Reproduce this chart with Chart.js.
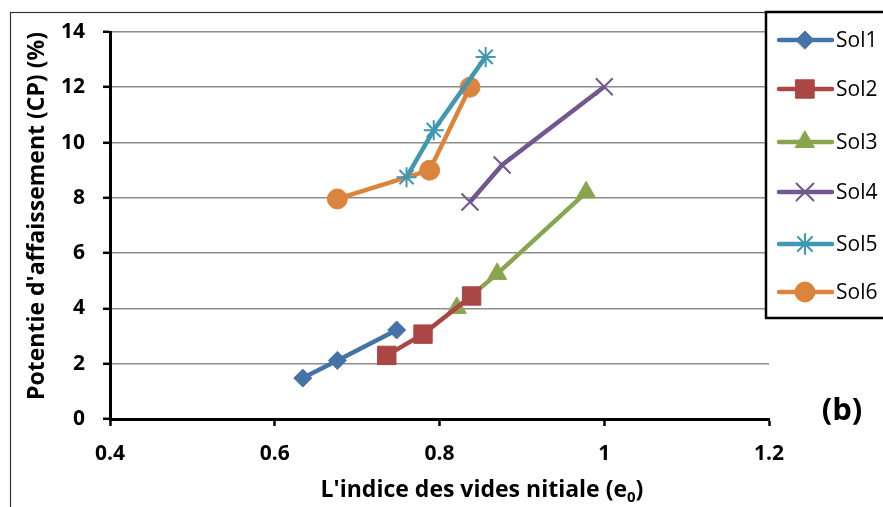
<!DOCTYPE html>
<html>
<head>
<meta charset="utf-8">
<script src="https://cdn.jsdelivr.net/npm/chart.js@4/dist/chart.umd.min.js"></script>
<style>
  html, body { margin:0; padding:0; background:#fff; }
  #wrap { width:883px; height:507px; position:relative; }
</style>
</head>
<body>
<div id="wrap"><canvas id="c" width="883" height="507"></canvas></div>
<script>
// Potentie d'affaissement vs indice des vides initial, sols 1 à 6
const names = ['Sol1','Sol2','Sol3','Sol4','Sol5','Sol6'];
const sol1X = [0.634, 0.676, 0.748], sol1Y = [1.48, 2.12, 3.22];
const sol2X = [0.736, 0.780, 0.839], sol2Y = [2.30, 3.07, 4.45];
const sol3X = [0.821, 0.870, 0.978], sol3Y = [4.02, 5.25, 8.20];
const sol4X = [0.837, 0.876, 1.000], sol4Y = [7.85, 9.19, 12.02];
const sol5X = [0.760, 0.793, 0.856], sol5Y = [8.75, 10.45, 13.10];
const sol6X = [0.676, 0.788, 0.837], sol6Y = [7.96, 9.00, 12.00];
const xTicks = [0.4, 0.6, 0.8, 1, 1.2];
const yTicks = [0, 2, 4, 6, 8, 10, 12, 14];

const colors = ['#4572A7','#AA4643','#89A54E','#71588F','#4198AF','#DB843D'];
const styles = ['rectRot','rect','triangle','crossRot','star','circle'];
const radii  = [9, 13, 11, 12, 10, 10];
const pbw    = [1, 1, 1, 2, 2, 1];

const xs = [sol1X, sol2X, sol3X, sol4X, sol5X, sol6X];
const ys = [sol1Y, sol2Y, sol3Y, sol4Y, sol5Y, sol6Y];

const datasets = names.map((n, i) => ({
  label: n,
  data: xs[i].map((x, j) => ({x, y: ys[i][j]})),
  showLine: true,
  borderColor: colors[i],
  backgroundColor: colors[i],
  borderWidth: 4.5,
  pointStyle: styles[i],
  pointRadius: radii[i],
  pointBorderWidth: pbw[i],
  pointBackgroundColor: colors[i],
  pointBorderColor: colors[i],
  tension: 0
}));

const FONT = '"Open Sans", "DejaVu Sans", sans-serif';

const decor = {
  id: 'decor',
  afterDraw(chart) {
    const ctx = chart.ctx;
    ctx.save();
    // cadre extérieur
    ctx.strokeStyle = '#333';
    ctx.lineWidth = 1.2;
    ctx.strokeRect(10.5, 12.5, 900, 520);

    // titre axe Y
    ctx.fillStyle = '#000';
    ctx.font = 'bold 23px ' + FONT;
    ctx.textAlign = 'center';
    ctx.textBaseline = 'middle';
    ctx.translate(37, 216);
    ctx.rotate(-Math.PI / 2);
    ctx.fillText("Potentie d'affaissement (CP) (%)", 0, 0);
    ctx.setTransform(1, 0, 0, 1, 0, 0);

    // titre axe X avec indice
    const main = "L'indice des vides nitiale (e";
    ctx.textAlign = 'left';
    ctx.textBaseline = 'alphabetic';
    ctx.font = 'bold 23px ' + FONT;
    const w1 = ctx.measureText(main).width;
    ctx.font = 'bold 15px ' + FONT;
    const w2 = ctx.measureText('0').width;
    ctx.font = 'bold 23px ' + FONT;
    const w3 = ctx.measureText(')').width;
    let x0 = 482 - (w1 + w2 + w3) / 2;
    const base = 497;
    ctx.fillText(main, x0, base);
    ctx.font = 'bold 15px ' + FONT;
    ctx.fillText('0', x0 + w1, base + 5);
    ctx.font = 'bold 23px ' + FONT;
    ctx.fillText(')', x0 + w1 + w2, base);

    // (b)
    ctx.font = 'bold 31px ' + FONT;
    ctx.textAlign = 'center';
    ctx.textBaseline = 'middle';
    ctx.fillText('(b)', 842, 411);

    // légende
    ctx.fillStyle = '#fff';
    ctx.fillRect(766, 12, 130, 306);
    ctx.strokeStyle = '#000';
    ctx.lineWidth = 2.5;
    ctx.strokeRect(766, 12, 130, 306);
    const rowsY = [40, 89, 142, 192, 244, 292];
    names.forEach((n, i) => {
      const y = rowsY[i];
      ctx.strokeStyle = colors[i];
      ctx.lineWidth = 4.5;
      ctx.lineCap = 'round';
      ctx.beginPath();
      ctx.moveTo(779, y);
      ctx.lineTo(832, y);
      ctx.stroke();
      ctx.fillStyle = colors[i];
      ctx.lineWidth = pbw[i];
      Chart.helpers.drawPoint(ctx, {pointStyle: styles[i], radius: radii[i], rotation: 0, borderWidth: pbw[i]}, 805, y);
      ctx.fillStyle = '#000';
      ctx.font = '21px ' + FONT;
      ctx.textAlign = 'left';
      ctx.textBaseline = 'middle';
      ctx.fillText(n, 836, y + 1);
    });
    ctx.restore();
  }
};

new Chart(document.getElementById('c'), {
  type: 'scatter',
  data: { datasets },
  options: {
    responsive: false,
    animation: false,
    layout: { padding: { left: 0, top: 32, right: 114, bottom: 0 } },
    plugins: { legend: { display: false }, tooltip: { enabled: false } },
    scales: {
      x: {
        type: 'linear', min: 0.4, max: 1.2,
        afterFit: s => { s.height = 88; },
        afterBuildTicks: s => { s.ticks = xTicks.map(v => ({value: v})); },
        grid: { drawOnChartArea: false, drawTicks: true, tickLength: 7, tickColor: '#000', tickWidth: 2.5 },
        border: { color: '#000', width: 3 },
        ticks: { color: '#000', font: { family: FONT, size: 21, weight: 'bold' }, padding: 15,
                 callback: v => String(Math.round(v * 10) / 10) }
      },
      y: {
        type: 'linear', min: 0, max: 14,
        afterFit: s => { s.width = 110; },
        afterBuildTicks: s => { s.ticks = yTicks.map(v => ({value: v})); },
        grid: { color: '#8c8c8c', lineWidth: 1.6, drawTicks: true, tickLength: 7, tickColor: '#000', tickWidth: 2.5 },
        border: { color: '#000', width: 3 },
        ticks: { color: '#000', font: { family: FONT, size: 21, weight: 'bold' }, padding: 18 }
      }
    }
  },
  plugins: [decor]
});
</script>
</body>
</html>
